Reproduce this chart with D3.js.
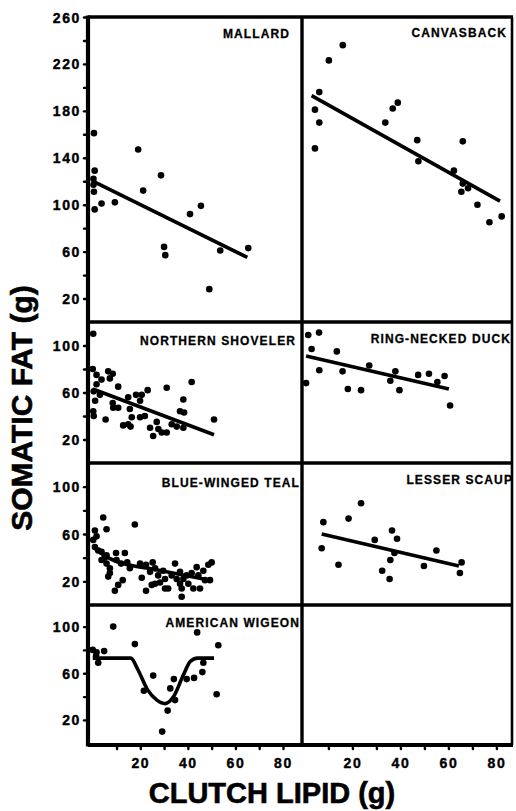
<!DOCTYPE html>
<html>
<head>
<meta charset="utf-8">
<script src="https://cdn.jsdelivr.net/npm/d3@7"></script>
<style>
  html, body { margin: 0; padding: 0; background: #fff; }
  svg { display: block; }
  text { font-family: "Liberation Sans", Arial, Helvetica, sans-serif; font-weight: bold; fill: #000; }
</style>
</head>
<body>
<div id="chart"></div>
<script>
// Data (clutch lipid g, somatic fat g)
const SPECIES = ['MALLARD', 'CANVASBACK', 'NORTHERN SHOVELER', 'RING-NECKED DUCK',
  'BLUE-WINGED TEAL', 'LESSER SCAUP', 'AMERICAN WIGEON'];

const mallardLipid = [0.5, 0.8, 0.3, 0.3, 0.5, 0.8, 3.7, 9.3, 19.1, 21.2, 28.7, 30.0, 30.5, 40.9, 45.5, 49.0, 53.6, 65.4];
const mallardFat   = [161, 129, 122, 117, 111, 96, 101, 102, 147, 112, 125, 64, 57, 92, 99, 28, 61, 63];
const mallardFitLipid = [0, 65];
const mallardFitFat   = [120, 55];

const canvasbackLipid = [6.2, 4.4, 6.2, 4.4, 10.2, 16.0, 33.7, 36.8, 38.9, 47.0, 47.5, 66.0, 62.3, 66.0, 68.2, 65.4, 72.1, 77.1, 82.2];
const canvasbackFat   = [196, 181, 170, 148, 223, 236, 170, 182, 187, 155, 137, 154, 129, 118, 114, 111, 100, 85, 90];
const canvasbackFitLipid = [3, 81.5];
const canvasbackFitFat   = [193, 103];

const shovelerLipid = [0.2, 0, 1.6, 3.7, 1.6, 0.4, 3.0, 1.0, 0.2, 0.4, 6.5, 8.4, 7.2, 10.7, 5.4, 8.4, 8.6, 10.7, 12.8, 14.9,
  15.9, 14.9, 15.6, 16.4, 18.2, 19.9, 20.6, 23.1, 19.9, 21.9, 24.1, 25.4, 26.9, 27.6, 29.0, 31.1, 31.1, 33.2, 35.3,
  36.7, 38.1, 38.4, 38.1, 41.6, 51.0];
const shovelerFat = [110, 80, 75, 71, 67, 61, 58, 53, 44, 40, 78, 76, 72, 65, 37, 51, 47, 47, 32, 33,
  31, 56, 46, 39, 58, 53, 58, 62, 39, 40, 30, 23, 35, 29, 26, 26, 64, 33, 31,
  44, 54, 43, 30, 69, 37];
const shovelerFitLipid = [0, 51];
const shovelerFitFat   = [63, 24];

const ringneckLipid = [1.6, 6.1, 3.0, 0.7, 6.2, 13.5, 15.9, 18.1, 23.6, 27.0, 35.8, 37.9, 39.6, 47.4, 51.9, 55.4, 58.4, 60.7];
const ringneckFat   = [109, 111, 97, 68, 79, 95, 78, 63, 62, 83, 70, 78, 62, 75, 76, 69, 74, 49];
const ringneckFitLipid = [0.7, 60.2];
const ringneckFitFat   = [91, 63];

const tealLipid = [0.9, 1.6, 4.4, 5.8, 17.7, 0.9, 2.3, 3.7, 5.8, 3.7, 5.8, 7.2, 7.2, 6.5, 9.8, 10, 11.9, 13.5, 14.5, 15.6,
  9.3, 10.7, 12.6, 20.6, 19.9, 22.4, 22.4, 24.1, 25.2, 26.2, 24.8, 26.2, 27.5, 28.3, 29.6, 30.4, 30.4, 31.7, 33.2, 34.6,
  35.3, 36.7, 36.7, 37.4, 37.4, 38.1, 39.5, 40.2, 41.6, 42.3, 43.7, 44.4, 45.1, 46.5, 47.2, 48.6, 50, 49.3, 0.2, 5];
const tealFat = [63, 58, 74, 64, 68, 49, 46, 45, 42, 38, 35, 31, 27, 24, 44, 38, 35, 44, 36, 31,
  12, 17, 21, 23, 35, 34, 12, 28, 36, 31, 17, 18, 25, 19, 29, 22, 14, 14, 25, 35,
  22, 28, 18, 14, 7, 22, 25, 18, 27, 14, 32, 25, 14, 29, 21, 34, 36, 21, 55, 40];
const tealFitLipid = [0.2, 5.8, 12.8, 24, 49.3];
const tealFitFat   = [49, 40.7, 35, 30.8, 20.9];

const scaupLipid = [7.9, 7.2, 14.2, 18.4, 23.6, 29.3, 32.4, 35.5, 36.5, 38.6, 35.8, 37.5, 49.8, 55.0, 65.5, 64.8];
const scaupFat   = [70, 48, 34, 73, 86, 55, 29, 22, 63, 56, 38, 44, 33, 46, 36, 27];
const scaupFitLipid = [7.2, 64.4];
const scaupFitFat   = [60, 33];

const wigeonLipid = [0, 1.6, 1.4, 2.3, 4.8, 8.6, 17.7, 21.5, 25.4, 29.2, 31.5, 32.6, 34.1, 34.6, 39.5, 42.6, 43.9, 46.1, 46.5, 52.8, 52.1];
const wigeonFat   = [80, 78, 75, 69, 79, 100, 85, 45, 58, 10, 28, 47, 55, 37, 55, 56, 95, 61, 69, 84, 42];
const wigeonFitLipid = [0, 16, 19, 23, 27, 30.5, 34, 38, 41, 44, 51];
const wigeonFitFat   = [73, 73, 63, 46, 37, 34, 40, 58, 70, 73, 73];

// Tick values
const TOP_TICKS = [20, 40, 60, 80, 100, 120, 140, 160, 180, 200, 220, 240, 260];
const TOP_LABELS = [20, 60, 100, 140, 180, 220, 260];
const LOW_TICKS = [20, 40, 60, 80, 100];
const LOW_LABELS = [20, 60, 100];
const X_TICKS = [10, 20, 30, 40, 50, 60, 70, 80];
const X_LABELS = [20, 40, 60, 80];

// Layout
const W = 516, H = 811;
const LEFT = 88, MID = 302, RIGHT = 512;
const ROWS_Y = [17, 322, 463, 605, 745];

const svg = d3.select('#chart').append('svg')
  .attr('width', W).attr('height', H);
svg.append('rect').attr('width', W).attr('height', H).attr('fill', '#fff');

const xLeft = d3.scaleLinear().domain([-2, 88]).range([LEFT, MID]);
const xRight = d3.scaleLinear().domain([-1, 86.5]).range([MID, RIGHT]);

const yRows = [
  d3.scaleLinear().domain([0, 260]).range([ROWS_Y[1], ROWS_Y[0]]),
  d3.scaleLinear().domain([0, 120]).range([ROWS_Y[2], ROWS_Y[1]]),
  d3.scaleLinear().domain([0, 120]).range([ROWS_Y[3], ROWS_Y[2]]),
  d3.scaleLinear().domain([-1.5, 118.5]).range([ROWS_Y[4], ROWS_Y[3]])
];

const panels = [
  { name: SPECIES[0], col: 0, row: 0, lx: mallardLipid, ly: mallardFat, fx: mallardFitLipid, fy: mallardFitFat, label: [290, 38] },
  { name: SPECIES[1], col: 1, row: 0, lx: canvasbackLipid, ly: canvasbackFat, fx: canvasbackFitLipid, fy: canvasbackFitFat, label: [507, 37] },
  { name: SPECIES[2], col: 0, row: 1, lx: shovelerLipid, ly: shovelerFat, fx: shovelerFitLipid, fy: shovelerFitFat, label: [296, 345] },
  { name: SPECIES[3], col: 1, row: 1, lx: ringneckLipid, ly: ringneckFat, fx: ringneckFitLipid, fy: ringneckFitFat, label: [511, 343] },
  { name: SPECIES[4], col: 0, row: 2, lx: tealLipid, ly: tealFat, fx: tealFitLipid, fy: tealFitFat, label: [300, 487], curve: true },
  { name: SPECIES[5], col: 1, row: 2, lx: scaupLipid, ly: scaupFat, fx: scaupFitLipid, fy: scaupFitFat, label: [513, 484] },
  { name: SPECIES[6], col: 0, row: 3, lx: wigeonLipid, ly: wigeonFat, fx: wigeonFitLipid, fy: wigeonFitFat, label: [300, 627], curve: true }
];

// points and fitted lines
panels.forEach(p => {
  const x = p.col === 0 ? xLeft : xRight;
  const y = yRows[p.row];
  const g = svg.append('g');
  g.selectAll('circle').data(p.lx.map((d, i) => [d, p.ly[i]])).enter()
    .append('circle')
    .attr('cx', d => x(d[0]))
    .attr('cy', d => y(d[1]))
    .attr('r', 3.3)
    .attr('fill', '#000');
  const line = d3.line()
    .x(d => x(d[0]))
    .y(d => y(d[1]))
    .curve(p.curve ? d3.curveMonotoneX : d3.curveLinear);
  g.append('path')
    .datum(p.fx.map((d, i) => [d, p.fy[i]]))
    .attr('d', line)
    .attr('fill', 'none')
    .attr('stroke', '#000')
    .attr('stroke-width', 3.6);
  g.append('text')
    .attr('x', p.label[0]).attr('y', p.label[1])
    .attr('text-anchor', 'end')
    .style('font-size', '12px')
    .style('letter-spacing', '1.1px')
    .style('stroke', '#000').style('stroke-width', '0.3px')
    .text(p.name);
});

// frame lines
const frame = svg.append('g').attr('stroke', '#000').attr('stroke-width', 3.4);
frame.append('line').attr('x1', LEFT).attr('x2', LEFT).attr('y1', ROWS_Y[0] - 1.5).attr('y2', ROWS_Y[4] + 1.5).attr('stroke-width', 4.2);
frame.append('line').attr('x1', MID).attr('x2', MID).attr('y1', ROWS_Y[0]).attr('y2', ROWS_Y[4]);
frame.append('line').attr('x1', RIGHT).attr('x2', RIGHT).attr('y1', ROWS_Y[0]).attr('y2', ROWS_Y[4]).attr('stroke-width', 2.6);
ROWS_Y.forEach((yy, i) => {
  frame.append('line').attr('x1', LEFT).attr('x2', RIGHT + 1).attr('y1', yy).attr('y2', yy)
    .attr('stroke-width', i === 4 ? 3.8 : 3.4);
});

// y axes (left column only)
function styleAxis(g) {
  g.select('.domain').remove();
  g.selectAll('.tick line').attr('stroke', '#000').attr('stroke-width', 2.4).attr('stroke-linecap', 'round');
  g.selectAll('.tick text')
    .style('font-size', '14px')
    .style('font-family', '"Liberation Sans", Arial, sans-serif')
    .style('font-weight', 'bold')
    .style('letter-spacing', '1.6px')
    .style('stroke', '#000').style('stroke-width', '0.4px')
    .attr('fill', '#000');
}

yRows.forEach((y, i) => {
  const ticks = i === 0 ? TOP_TICKS : LOW_TICKS;
  const labels = i === 0 ? TOP_LABELS : LOW_LABELS;
  svg.append('g')
    .attr('transform', `translate(${LEFT},0)`)
    .call(d3.axisLeft(y).tickValues(ticks).tickSize(4).tickPadding(3)
      .tickFormat(d => labels.includes(d) ? d : ''))
    .call(styleAxis)
    .selectAll('.tick text').attr('dy', '0.36em');
});

// x axes (both columns)
[xLeft, xRight].forEach(x => {
  svg.append('g')
    .attr('transform', `translate(0,${ROWS_Y[4]})`)
    .call(d3.axisBottom(x).tickValues(X_TICKS).tickSize(4).tickPadding(9)
      .tickFormat(d => X_LABELS.includes(d) ? d : ''))
    .call(styleAxis);
});

// axis titles
svg.append('text')
  .attr('transform', 'translate(32,408) rotate(-90)')
  .attr('text-anchor', 'middle')
  .style('font-size', '30px')
  .style('stroke', '#000').style('stroke-width', '0.6px')
  .text('SOMATIC FAT (g)');

svg.append('text')
  .attr('x', 272).attr('y', 803)
  .attr('text-anchor', 'middle')
  .style('font-size', '29px')
  .style('stroke', '#000').style('stroke-width', '0.6px')
  .text('CLUTCH LIPID (g)');
</script>
</body>
</html>
